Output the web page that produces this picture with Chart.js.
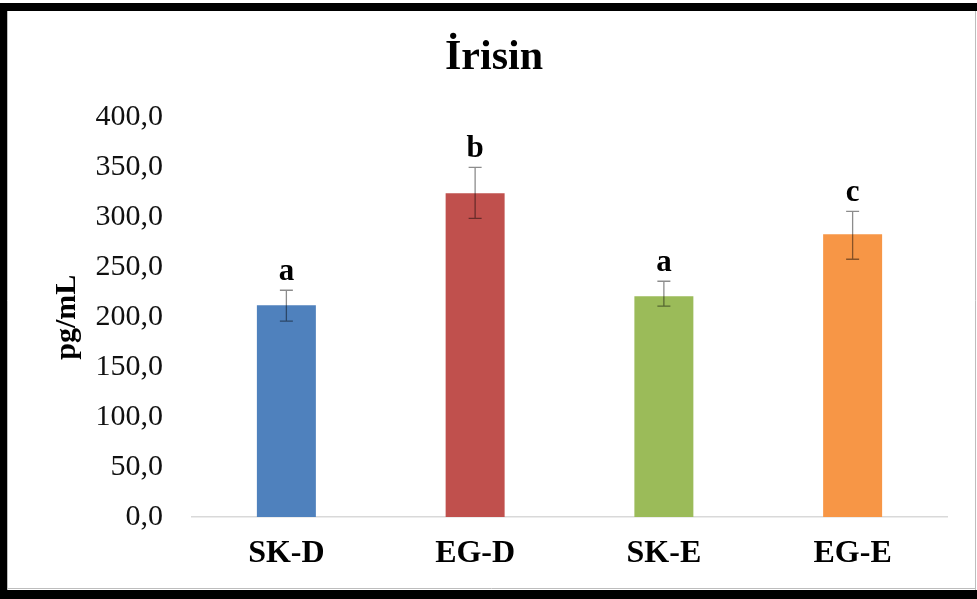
<!DOCTYPE html>
<html>
<head>
<meta charset="utf-8">
<script src="https://cdn.jsdelivr.net/npm/chart.js@4.4.1/dist/chart.umd.min.js"></script>
<style>
  html, body { margin: 0; padding: 0; background: #fff; }
  #wrap { width: 977px; height: 599px; position: relative; }
</style>
</head>
<body>
<div id="wrap"><canvas id="c" width="977" height="599"></canvas></div>
<script>
// Irisin levels per group (pg/mL)
const groups = ['SK-D', 'EG-D', 'SK-E', 'EG-E'];
const means = [212, 324, 221, 283];
const errPlus = [15, 26, 15, 23];
const errMinus = [16, 25, 10, 25];
const letters = ['a', 'b', 'a', 'c'];
const barColors = ['#4F81BD', '#C0504D', '#9BBB59', '#F79646'];
const yTicks = [0, 50, 100, 150, 200, 250, 300, 350, 400];

const SERIF = '"Liberation Serif", "Times New Roman", serif';

// White page with a heavy black frame around the figure
const framePlugin = {
  id: 'frame',
  afterLayout(chart) {
    // centre the title on the whole figure rather than on the padded box
    const t = chart.titleBlock;
    if (t) { t.left = 0; t.right = 988; t.width = 988; }
  },
  beforeDraw(chart) {
    const ctx = chart.ctx;
    const W = chart.width, H = chart.height;
    ctx.save();
    ctx.fillStyle = '#ffffff';
    ctx.fillRect(0, 0, W, H);
    ctx.fillStyle = '#000000';
    ctx.fillRect(0, 3, W, 8);        // top
    ctx.fillRect(0, 3, 7, H - 3);    // left
    ctx.fillRect(0, 590, W, 9);      // bottom
    ctx.strokeStyle = '#bdbdbd';
    ctx.lineWidth = 1;
    ctx.beginPath();
    ctx.moveTo(975.5, 11); ctx.lineTo(975.5, 590);
    ctx.moveTo(7, 588.5); ctx.lineTo(976, 588.5);
    ctx.moveTo(7.5, 11); ctx.lineTo(7.5, 590);
    ctx.stroke();
    ctx.restore();
  }
};

// Error bars and significance letters above each bar
const errorPlugin = {
  id: 'errors',
  afterDatasetsDraw(chart) {
    const ctx = chart.ctx;
    const y = chart.scales.y;
    const meta = chart.getDatasetMeta(0);
    ctx.save();
    meta.data.forEach((bar, i) => {
      const x = bar.x;
      const top = y.getPixelForValue(means[i] + errPlus[i]);
      const bot = y.getPixelForValue(means[i] - errMinus[i]);
      ctx.strokeStyle = 'rgba(0,0,0,0.45)';
      ctx.lineWidth = 1.3;
      ctx.beginPath();
      ctx.moveTo(x, top); ctx.lineTo(x, bot);
      ctx.moveTo(x - 6.5, top); ctx.lineTo(x + 6.5, top);
      ctx.moveTo(x - 6.5, bot); ctx.lineTo(x + 6.5, bot);
      ctx.stroke();

      ctx.fillStyle = '#000000';
      ctx.font = 'bold 31px ' + SERIF;
      ctx.textAlign = 'center';
      ctx.textBaseline = 'alphabetic';
      ctx.fillText(letters[i], x, top - 10);
    });
    ctx.restore();
  }
};

new Chart(document.getElementById('c'), {
  type: 'bar',
  data: {
    labels: groups,
    datasets: [{
      data: means,
      backgroundColor: barColors,
      borderWidth: 0,
      categoryPercentage: 1.0,
      barPercentage: 0.3125
    }]
  },
  options: {
    responsive: false,
    animation: false,
    events: [],
    layout: { padding: { top: 12, left: 0, right: 30, bottom: 26 } },
    plugins: {
      legend: { display: false },
      tooltip: { enabled: false },
      title: {
        display: true,
        text: 'İrisin',
        color: '#000000',
        font: { family: SERIF, size: 42, weight: 'bold', lineHeight: 1.2 },
        padding: { top: 21, bottom: 34 }
      }
    },
    scales: {
      x: {
        grid: { display: false, drawTicks: false },
        border: { display: true, color: '#d9d9d9', width: 1.5 },
        ticks: {
          color: '#000000',
          padding: 18,
          font: { family: SERIF, size: 32, weight: 'bold' }
        },
        afterFit(scale) { scale.height = 56; }
      },
      y: {
        min: 0,
        max: 400,
        afterBuildTicks(scale) { scale.ticks = yTicks.map(v => ({ value: v })); },
        grid: { display: false, drawTicks: false },
        border: { display: false },
        ticks: {
          color: '#111111',
          padding: 29,
          font: { family: SERIF, size: 30 },
          callback: v => v.toFixed(1).replace('.', ',')
        },
        title: {
          display: true,
          text: 'pg/mL',
          color: '#000000',
          font: { family: SERIF, size: 30, weight: 'bold', lineHeight: 1.2 },
          padding: { top: 49, bottom: 0 }
        },
        afterFit(scale) { scale.width = 192; }
      }
    }
  },
  plugins: [framePlugin, errorPlugin]
});
</script>
</body>
</html>
